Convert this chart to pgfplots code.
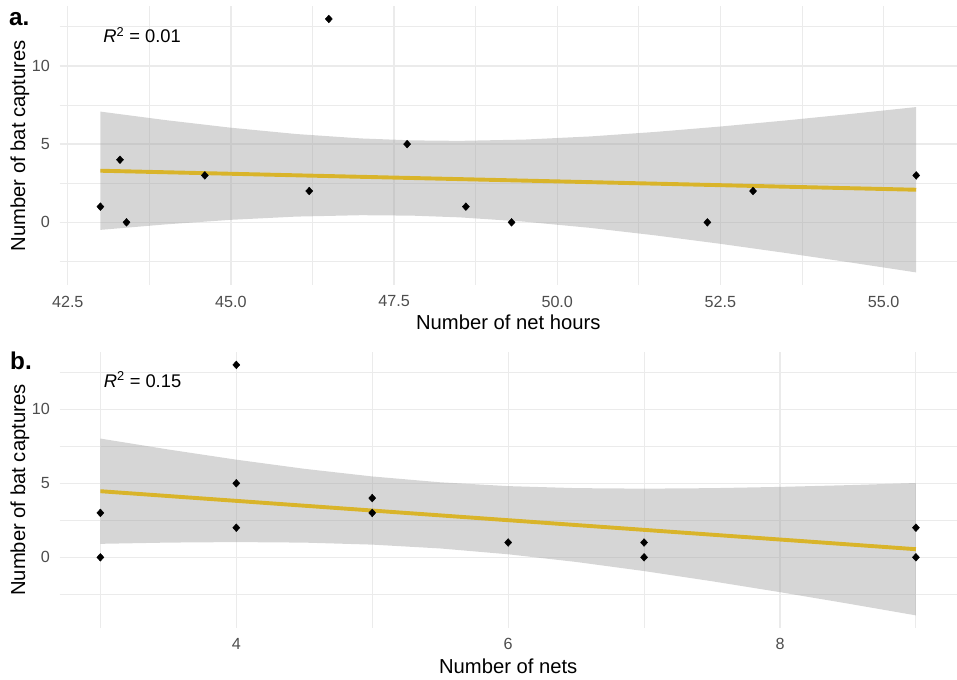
\documentclass[border=0pt]{standalone}
\usepackage{fontspec}
\setmainfont{Liberation Sans}
\usepackage{pgfplots}
\pgfplotsset{compat=1.18}
\usepackage{pgfplotstable}
\usepgfplotslibrary{fillbetween}

\definecolor{gridgray}{RGB}{235,235,235}
\definecolor{tickgray}{RGB}{77,77,77}
\definecolor{bandgray}{RGB}{153,153,153}
\definecolor{fitgold}{RGB}{217,180,42}

\newcommand\tickfont{\fontsize{16.2}{19}\selectfont}
\newcommand\titlefont{\fontsize{20.3}{24}\selectfont}
\newcommand\tagfont{\fontsize{24.4}{29}\selectfont\bfseries}
\newcommand\annfont{\fontsize{18.4}{22}\selectfont}

% captures per site against net hours
\pgfplotstableread{
x    y
43.0 1
43.3 4
43.4 0
44.6 3
46.2 2
46.5 13
47.7 5
48.6 1
49.3 0
52.3 0
53.0 2
55.5 3
}\ptsA

% linear fit with 95% confidence band (net hours)
\pgfplotstableread{
x     fit   lo     hi
43.0  3.298 -0.483 7.079
44.0  3.201 -0.132 6.534
45.0  3.104  0.160 6.048
46.0  3.006  0.366 5.646
47.0  2.909  0.456 5.362
47.78 2.833  0.427 5.239
48.5  2.763  0.318 5.208
49.5  2.666  0.042 5.290
50.5  2.569 -0.352 5.490
51.5  2.472 -0.834 5.778
52.5  2.375 -1.375 6.125
53.5  2.277 -1.959 6.513
54.5  2.180 -2.571 6.931
55.5  2.083 -3.203 7.369
}\bandA

% captures per site against number of nets
\pgfplotstableread{
x y
3 3
3 0
4 13
4 5
4 2
5 4
5 3
6 1
7 1
7 0
9 2
9 0
}\ptsB

% linear fit with 95% confidence band (nets)
\pgfplotstableread{
x   fit   lo     hi
3.0 4.466  0.910 8.022
3.5 4.139  0.994 7.284
4.0 3.813  1.029 6.597
4.5 3.486  0.992 5.980
5.0 3.160  0.857 5.463
5.5 2.833  0.598 5.068
6.0 2.507  0.204 4.810
6.5 2.180 -0.314 4.674
7.0 1.854 -0.930 4.638
7.5 1.527 -1.618 4.672
8.0 1.201 -2.355 4.757
8.5 0.874 -3.127 4.875
9.0 0.547 -3.924 5.018
}\bandB

\pgfplotsset{
  batpanel/.style={
    scale only axis, anchor=north west,
    axis line style={draw=none},
    major tick length=0pt, minor tick length=0pt,
    grid=both,
    major grid style={draw=gridgray, line width=1.3bp},
    minor grid style={draw=gridgray, line width=1bp},
    tick label style={font=\tickfont, text=tickgray},
    /pgf/number format/assume math mode=true,
    xticklabel style={anchor=north, inner sep=0pt, yshift=-10.5bp},
    yticklabel style={anchor=east, inner sep=0pt, xshift=-9.5bp},
    ytick={0,5,10}, minor ytick={-2.5,2.5,7.5,12.5},
  },
  fitline/.style={fitgold, line width=3.9bp, no marks},
  sitepts/.style={only marks, mark=square*, mark size=2.5bp,
    mark options={fill=black, draw=none, yscale=1.1, rotate=45}},
}

\begin{document}
\begin{tikzpicture}

% panel a: net hours
\begin{axis}[batpanel, at={(59.6bp,-6.3bp)}, width=897.4bp, height=278.8bp,
  xmin=42.375, xmax=56.125, ymin=-4.013, ymax=13.81,
  xtick={42.5,45,47.5,50,52.5,55},
  xticklabels={42.5,45.0,47.5,50.0,52.5,55.0},
  minor xtick={43.75,46.25,48.75,51.25,53.75}]
\addplot[name path=hiA, draw=none] table[x=x,y=hi]{\bandA};
\addplot[name path=loA, draw=none] table[x=x,y=lo]{\bandA};
\addplot[fill=bandgray, fill opacity=0.4, draw=none] fill between[of=hiA and loA];
\addplot[fitline] table[x=x,y=fit]{\bandA};
\addplot[sitepts] table[x=x,y=y]{\ptsA};
\node[anchor=base, font=\annfont, inner sep=0pt] at (axis cs:43.64,11.5)
  {\textit{R}\textsuperscript{2} = 0.01};
\end{axis}

% panel b: number of nets
\begin{axis}[batpanel, at={(59.6bp,-352.3bp)}, width=897.1bp, height=275.6bp,
  xmin=2.7, xmax=9.3, ymin=-4.77, ymax=13.85,
  xtick={4,6,8}, minor xtick={3,5,7,9}]
\addplot[name path=hiB, draw=none] table[x=x,y=hi]{\bandB};
\addplot[name path=loB, draw=none] table[x=x,y=lo]{\bandB};
\addplot[fill=bandgray, fill opacity=0.4, draw=none] fill between[of=hiB and loB];
\addplot[fitline] table[x=x,y=fit]{\bandB};
\addplot[sitepts] table[x=x,y=y]{\ptsB};
\node[anchor=base, font=\annfont, inner sep=0pt] at (axis cs:3.31,11.5)
  {\textit{R}\textsuperscript{2} = 0.15};
\end{axis}

% axis titles and panel tags
\node[font=\titlefont, anchor=base, inner sep=0pt] at (508.3bp,-329.5bp) {Number of net hours};
\node[font=\titlefont, anchor=base, inner sep=0pt, rotate=90] at (25bp,-145.7bp) {Number of bat captures};
\node[font=\tagfont, anchor=base west, inner sep=0pt] at (9bp,-25bp) {a.};

\node[font=\titlefont, anchor=base, inner sep=0pt] at (508.2bp,-673bp) {Number of nets};
\node[font=\titlefont, anchor=base, inner sep=0pt, rotate=90] at (25bp,-490.1bp) {Number of bat captures};
\node[font=\tagfont, anchor=base west, inner sep=0pt] at (10bp,-369bp) {b.};

% fix the page to the full figure area
\pgfresetboundingbox
\useasboundingbox (0,0) rectangle (957bp,-680bp);
\end{tikzpicture}
\end{document}
